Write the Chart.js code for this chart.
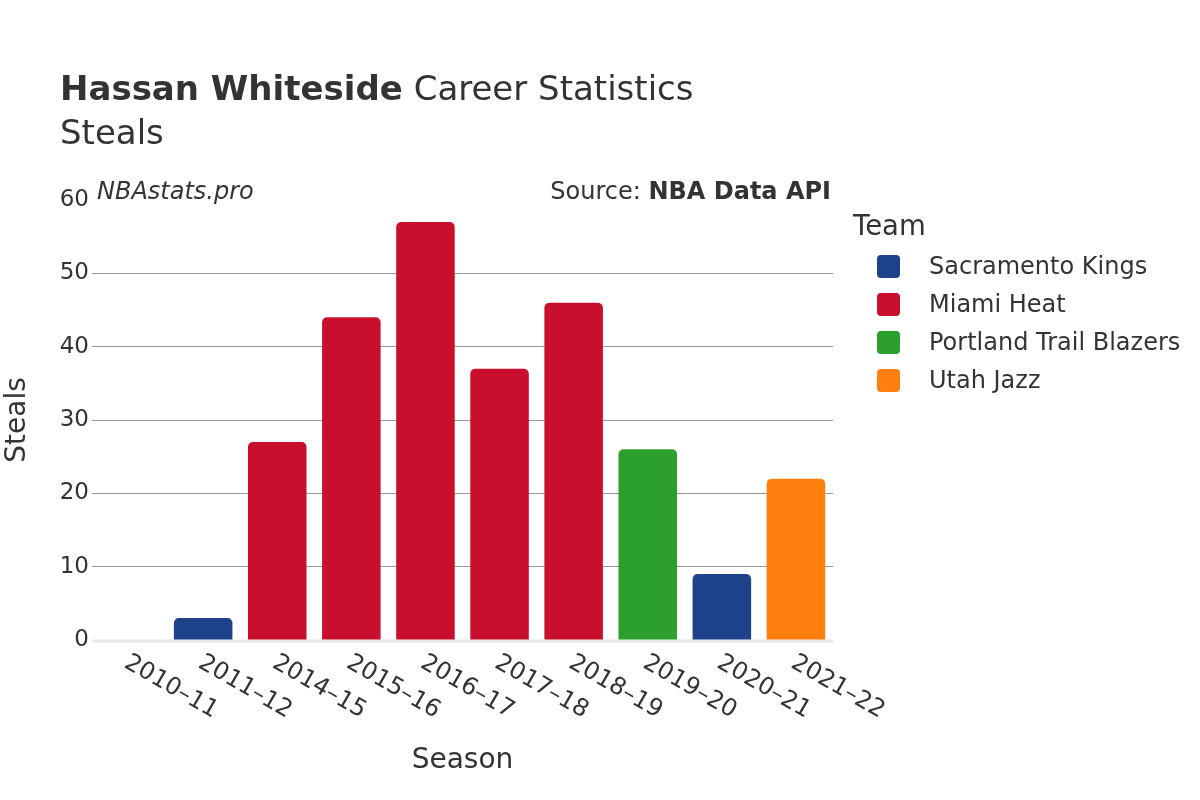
<!DOCTYPE html>
<html>
<head>
<meta charset="utf-8">
<script src="https://cdn.jsdelivr.net/npm/chart.js@4.4.1/dist/chart.umd.min.js"></script>
<style>
  html, body { margin: 0; padding: 0; background: #fff; }
  #wrap { position: relative; width: 1200px; height: 800px; font-family: "DejaVu Sans", sans-serif; color: #333; }
  #chart { position: absolute; left: 0; top: 0; }
  .txt { position: absolute; white-space: nowrap; }
  #title { left: 60px; top: 68px; font-size: 34px; }
  #subtitle { left: 60px; top: 112px; font-size: 34px; }
  #brand { left: 97px; top: 177px; font-size: 24px; font-style: italic; }
  #source { right: 369px; top: 177px; font-size: 24px; }
  #legend { left: 853px; top: 209px; }
  #legend .head { font-size: 27.5px; margin-bottom: 6px; }
  #legend .item { display: flex; align-items: center; height: 38px; font-size: 24px; }
  #legend .sw { width: 23px; height: 23px; border-radius: 4px; margin-left: 24px; margin-right: 29px; }
</style>
</head>
<body>
<div id="wrap">
  <canvas id="chart" width="1200" height="800"></canvas>
  <div class="txt" id="title"><b>Hassan Whiteside</b> Career Statistics</div>
  <div class="txt" id="subtitle">Steals</div>
  <div class="txt" id="brand">NBAstats.pro</div>
  <div class="txt" id="source">Source: <b>NBA Data API</b></div>
  <div class="txt" id="legend"></div>
</div>
<script>
// data
const seasons = ['2010–11', '2011–12', '2014–15', '2015–16', '2016–17', '2017–18', '2018–19', '2019–20', '2020–21', '2021–22'];
const seasonTeams = ['Sacramento Kings', 'Sacramento Kings', 'Miami Heat', 'Miami Heat', 'Miami Heat', 'Miami Heat', 'Miami Heat', 'Portland Trail Blazers', 'Sacramento Kings', 'Utah Jazz'];
const steals = [0, 3, 27, 44, 57, 37, 46, 26, 9, 22];
const teams = ['Sacramento Kings', 'Miami Heat', 'Portland Trail Blazers', 'Utah Jazz'];
const teamColors = ['#1d428a', '#c8102e', '#2ca02c', '#ff7f0e'];
const yTicks = [0, 10, 20, 30, 40, 50, 60];

const FONT = '"DejaVu Sans", sans-serif';

// one dataset per team, nulls elsewhere, drawn un-grouped
const datasets = teams.map((team, i) => ({
  label: team,
  data: steals.map((v, j) => (seasonTeams[j] === team ? v : null)),
  backgroundColor: teamColors[i],
  borderRadius: 5,
  borderSkipped: 'start',
  grouped: false,
  barPercentage: 0.79,
  categoryPercentage: 1
}));

// html legend
const legendEl = document.getElementById('legend');
legendEl.innerHTML = '<div class="head">Team</div>' + teams.map((t, i) =>
  `<div class="item"><span class="sw" style="background:${teamColors[i]}"></span>${t}</div>`).join('');

// rotated x labels (clockwise, start anchored at tick)
const xLabelPlugin = {
  id: 'xLabels',
  afterDraw(chart) {
    const { ctx, scales: { x } } = chart;
    ctx.save();
    ctx.font = `24px ${FONT}`;
    ctx.fillStyle = '#333';
    ctx.textAlign = 'left';
    ctx.textBaseline = 'middle';
    seasons.forEach((s, i) => {
      const px = x.getPixelForValue(i);
      ctx.save();
      ctx.translate(px - 3, 661);
      ctx.rotate(Math.PI / 6);
      ctx.fillText(s, 0, 0);
      ctx.restore();
    });
    ctx.restore();
  }
};

// zero line on top of grid
const zeroLinePlugin = {
  id: 'zeroLine',
  beforeDatasetsDraw(chart) {
    const { ctx, chartArea, scales: { y } } = chart;
    const py = y.getPixelForValue(0);
    ctx.save();
    ctx.strokeStyle = '#e8e8e8';
    ctx.lineWidth = 3;
    ctx.beginPath();
    ctx.moveTo(chartArea.left, py + 1);
    ctx.lineTo(chartArea.right, py + 1);
    ctx.stroke();
    ctx.restore();
  }
};

new Chart(document.getElementById('chart'), {
  type: 'bar',
  data: { labels: seasons, datasets },
  options: {
    responsive: false,
    animation: false,
    layout: { padding: { left: 0, top: 200, right: 367, bottom: 0 } },
    plugins: {
      legend: { display: false },
      tooltip: { enabled: false }
    },
    scales: {
      x: {
        grid: { display: false },
        border: { display: false },
        ticks: { display: false },
        title: {
          display: true,
          text: 'Season',
          color: '#333',
          font: { family: FONT, size: 28 },
          padding: { top: 0, bottom: 22 }
        },
        afterFit(scale) { scale.height = 160; }
      },
      y: {
        min: 0,
        max: 60,
        afterBuildTicks(scale) { scale.ticks = yTicks.map(v => ({ value: v })); },
        grid: {
          color: (c) => (c.tick && (c.tick.value === 0 || c.tick.value === 60) ? 'rgba(0,0,0,0)' : '#999'),
          lineWidth: 1,
          drawTicks: false
        },
        border: { display: false },
        ticks: {
          color: '#333',
          padding: 3,
          font: { family: FONT, size: 23 }
        },
        title: {
          display: true,
          text: 'Steals',
          color: '#333',
          font: { family: FONT, size: 28 },
          padding: { top: 1, bottom: 0 }
        },
        afterFit(scale) { scale.width = 92; }
      }
    }
  },
  plugins: [zeroLinePlugin, xLabelPlugin]
});
</script>
</body>
</html>
